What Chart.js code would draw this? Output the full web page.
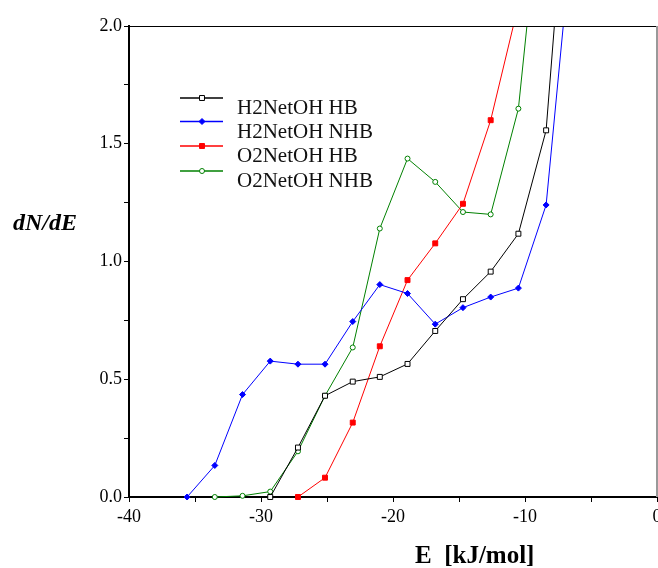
<!DOCTYPE html>
<html>
<head>
<meta charset="utf-8">
<script src="https://cdn.jsdelivr.net/npm/chart.js@4/dist/chart.umd.min.js"></script>
<style>
  body { margin: 0; background: #fff; }
  #wrap { width: 658px; height: 568px; position: relative; }
</style>
</head>
<body>
<div id="wrap"><canvas id="chart"></canvas></div>
<script>
// bin centres (kJ/mol)
const energies = [-35.6, -33.5, -31.4, -29.3, -27.2, -25.15, -23.05, -21.0, -18.9, -16.8, -14.7, -12.6, -10.5, -8.4, -6.3];

const h2HB  = [null, null, null, 0, 0.21, 0.43, 0.49, 0.51, 0.565, 0.705, 0.84, 0.957, 1.118, 1.557, 3.05];
const h2NHB = [0, 0.134, 0.435, 0.577, 0.564, 0.564, 0.745, 0.902, 0.864, 0.734, 0.804, 0.849, 0.887, 1.24, 2.47];
const o2HB  = [null, null, null, null, 0, 0.082, 0.316, 0.64, 0.921, 1.077, 1.245, 1.60, 2.09, null, null];
const o2NHB = [null, 0, 0.005, 0.023, 0.194, 0.43, 0.635, 1.14, 1.437, 1.338, 1.21, 1.20, 1.649, 2.79, null];

const xTicks = [-40, -30, -20, -10, 0];
const yTicks = [0.0, 0.5, 1.0, 1.5, 2.0];

const serif = "'Liberation Serif', 'Times New Roman', serif";

function pts(values) {
  const out = [];
  values.forEach((v, i) => { if (v !== null) out.push({ x: energies[i], y: v }); });
  return out;
}

const clipBox = { left: 6, right: 6, top: 0, bottom: 6 };

const datasets = [
  { label: "H2NetOH HB", data: pts(h2HB), borderColor: "#000000", backgroundColor: "#ffffff",
    pointStyle: "rect", pointRadius: 3.5, pointBorderWidth: 1, borderWidth: 1 },
  { label: "H2NetOH NHB", data: pts(h2NHB), borderColor: "#0000ff", backgroundColor: "#0000ff",
    pointStyle: "rectRot", pointRadius: 3, pointBorderWidth: 1, borderWidth: 1 },
  { label: "O2NetOH HB", data: pts(o2HB), borderColor: "#ff0000", backgroundColor: "#ff0000",
    pointStyle: "rect", pointRadius: 3.5, pointBorderWidth: 1, borderWidth: 1 },
  { label: "O2NetOH NHB", data: pts(o2NHB), borderColor: "#008000", backgroundColor: "#ffffff",
    pointStyle: "circle", pointRadius: 2.5, pointBorderWidth: 1, borderWidth: 1 }
];
datasets.forEach(d => { d.clip = clipBox; d.tension = 0; d.pointHoverRadius = d.pointRadius; });

const legendRows = [98, 121.5, 146, 171];

// frame, legend and axis titles drawn on top
const decorations = {
  id: "decorations",
  afterDraw(chart) {
    const ctx = chart.ctx;
    const a = chart.chartArea;
    ctx.save();
    // top and right frame
    ctx.strokeStyle = "#000";
    ctx.lineWidth = 1;
    ctx.beginPath();
    ctx.moveTo(a.left, a.top + 0.5);
    ctx.lineTo(a.right, a.top + 0.5);
    ctx.stroke();
    ctx.strokeStyle = "#999";
    ctx.lineWidth = 2;
    ctx.beginPath();
    ctx.moveTo(a.right, a.top);
    ctx.lineTo(a.right, a.bottom);
    ctx.stroke();

    // legend
    chart.data.datasets.forEach((ds, i) => {
      const y = legendRows[i];
      ctx.strokeStyle = ds.borderColor;
      ctx.lineWidth = 1.5;
      ctx.beginPath();
      ctx.moveTo(180, y);
      ctx.lineTo(223, y);
      ctx.stroke();
      ctx.fillStyle = ds.backgroundColor;
      ctx.strokeStyle = ds.borderColor;
      ctx.lineWidth = 1;
      Chart.helpers.drawPoint(ctx, {
        pointStyle: ds.pointStyle, radius: ds.pointRadius, borderWidth: 1, rotation: 0
      }, 202, y);
      ctx.fillStyle = "#111";
      ctx.font = "21px " + serif;
      ctx.textBaseline = "alphabetic";
      ctx.textAlign = "left";
      ctx.fillText(ds.label, 237, y + 16);
    });

    // axis titles
    ctx.fillStyle = "#000";
    ctx.font = "italic bold 24px " + serif;
    ctx.fillText("dN/dE", 13, 230);
    ctx.font = "bold 25px " + serif;
    ctx.fillText("E  [kJ/mol]", 415, 563);
    ctx.restore();
  }
};

new Chart(document.getElementById("chart"), {
  type: "line",
  data: { datasets: datasets },
  options: {
    responsive: true,
    maintainAspectRatio: false,
    animation: false,
    events: [],
    layout: { autoPadding: false, padding: { top: 26, right: 1, left: 0, bottom: 0 } },
    plugins: { legend: { display: false }, tooltip: { enabled: false } },
    scales: {
      x: {
        type: "linear",
        min: -40,
        max: 0,
        afterFit(scale) { scale.height = 71; scale.paddingLeft = 0; scale.paddingRight = 0; },
        border: { display: true, color: "#000", width: 2 },
        grid: { drawOnChartArea: false, drawTicks: true, tickLength: 5, color: "#000" },
        ticks: {
          stepSize: 5,
          autoSkip: false,
          maxRotation: 0,
          padding: 4,
          color: "#000",
          font: { family: serif, size: 18 },
          callback: v => xTicks.includes(v) ? String(v) : ""
        }
      },
      y: {
        min: 0,
        max: 2,
        afterFit(scale) { scale.width = 129; scale.paddingTop = 0; scale.paddingBottom = 0; },
        border: { display: true, color: "#000", width: 2 },
        grid: { drawOnChartArea: false, drawTicks: true, tickLength: 5, color: "#000" },
        ticks: {
          stepSize: 0.25,
          autoSkip: false,
          padding: 2,
          color: "#000",
          font: { family: serif, size: 18 },
          callback: v => yTicks.some(t => Math.abs(t - v) < 1e-9) ? v.toFixed(1) : ""
        }
      }
    }
  },
  plugins: [decorations]
});
</script>
</body>
</html>
